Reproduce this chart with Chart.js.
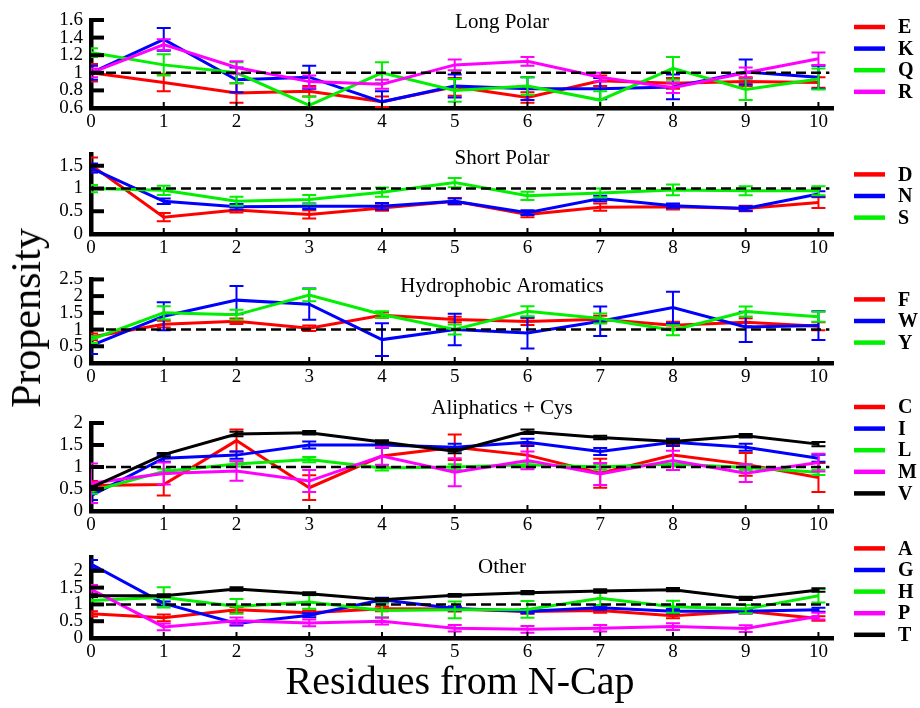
<!DOCTYPE html>
<html>
<head>
<meta charset="utf-8">
<script src="https://cdn.jsdelivr.net/npm/chart.js@4.4.0/dist/chart.umd.min.js"></script>
<style>
  body { margin: 0; background: #fff; }
  #wrap { position: relative; width: 920px; height: 708px; overflow: hidden; font-family: 'Liberation Serif', 'DejaVu Serif', serif; color: #000; }
  #wrap canvas { position: absolute; left: 0; }
  .ylab { position: absolute; left: 26px; top: 318px; transform: translate(-50%, -50%) rotate(-90deg); font-size: 42px; line-height: 42px; white-space: nowrap; }
  .xlab { position: absolute; left: 0; width: 920px; top: 661px; text-align: center; font-size: 40px; line-height: 40px; white-space: nowrap; }
</style>
</head>
<body>
<div id="wrap">
  <canvas id="p1" width="920" height="135" style="top:0px"></canvas>
  <canvas id="p2" width="920" height="125" style="top:135px"></canvas>
  <canvas id="p3" width="920" height="128" style="top:260px"></canvas>
  <canvas id="p4" width="920" height="150" style="top:388px"></canvas>
  <canvas id="p5" width="920" height="128" style="top:538px"></canvas>
  <div class="ylab">Propensity</div>
  <div class="xlab">Residues from N-Cap</div>
</div>
<script>
const residues = [0, 1, 2, 3, 4, 5, 6, 7, 8, 9, 10];

// Long Polar
const propE = [1.0, 0.89, 0.77, 0.79, 0.67, 0.84, 0.72, 0.91, 0.88, 0.9, 0.89];
const errE  = [0.1, 0.1, 0.11, 0.06, 0.06, 0.1, 0.06, 0.06, 0.06, 0.05, 0.06];
const propK = [1.0, 1.38, 0.92, 0.95, 0.67, 0.85, 0.82, 0.82, 0.84, 1.01, 0.95];
const errK  = [0.08, 0.13, 0.14, 0.13, 0.12, 0.13, 0.13, 0.12, 0.14, 0.14, 0.13];
const propQ = [1.23, 1.09, 1.0, 0.63, 1.0, 0.8, 0.85, 0.69, 1.05, 0.81, 0.93];
const errQ  = [0.05, 0.12, 0.12, 0.1, 0.12, 0.13, 0.1, 0.1, 0.13, 0.12, 0.12];
const propR = [1.0, 1.32, 1.06, 0.9, 0.87, 1.09, 1.13, 0.95, 0.83, 1.0, 1.16];
const errR  = [0.05, 0.06, 0.07, 0.07, 0.05, 0.06, 0.05, 0.05, 0.06, 0.06, 0.07];

// Short Polar
const propD = [1.52, 0.37, 0.53, 0.43, 0.57, 0.72, 0.43, 0.59, 0.6, 0.56, 0.69];
const errD  = [0.16, 0.09, 0.06, 0.09, 0.06, 0.07, 0.06, 0.08, 0.06, 0.06, 0.12];
const propN = [1.45, 0.72, 0.6, 0.61, 0.61, 0.72, 0.47, 0.78, 0.62, 0.56, 0.88];
const errN  = [0.1, 0.06, 0.06, 0.06, 0.07, 0.06, 0.05, 0.06, 0.05, 0.05, 0.06];
const propS = [1.0, 0.96, 0.72, 0.76, 0.92, 1.13, 0.84, 0.9, 0.97, 0.95, 0.95];
const errS  = [0.08, 0.1, 0.1, 0.1, 0.1, 0.1, 0.09, 0.1, 0.12, 0.1, 0.1];

// Hydrophobic Aromatics
const propF = [0.78, 1.16, 1.25, 1.04, 1.43, 1.3, 1.24, 1.31, 1.13, 1.22, 1.1];
const errF  = [0.1, 0.1, 0.08, 0.08, 0.08, 0.08, 0.1, 0.1, 0.1, 0.12, 0.12];
const propW = [0.52, 1.4, 1.88, 1.76, 0.7, 1.0, 0.9, 1.25, 1.66, 1.08, 1.12];
const errW  = [0.25, 0.42, 0.42, 0.47, 0.49, 0.47, 0.47, 0.44, 0.47, 0.45, 0.43];
const propY = [0.7, 1.5, 1.44, 2.03, 1.45, 1.0, 1.55, 1.33, 0.98, 1.54, 1.38];
const errY  = [0.1, 0.2, 0.15, 0.18, 0.1, 0.15, 0.15, 0.15, 0.15, 0.15, 0.15];

// Aliphatics + Cys
const propC = [0.58, 0.6, 1.6, 0.53, 1.25, 1.45, 1.27, 0.86, 1.27, 1.06, 0.76];
const errC  = [0.1, 0.25, 0.25, 0.28, 0.25, 0.29, 0.25, 0.33, 0.25, 0.26, 0.33];
const propI = [0.35, 1.2, 1.27, 1.5, 1.5, 1.45, 1.56, 1.35, 1.56, 1.45, 1.2];
const errI  = [0.1, 0.08, 0.08, 0.08, 0.06, 0.08, 0.08, 0.08, 0.08, 0.08, 0.08];
const propL = [0.45, 0.9, 1.07, 1.17, 0.98, 1.0, 1.05, 1.0, 1.07, 0.99, 0.88];
const errL  = [0.06, 0.06, 0.06, 0.06, 0.06, 0.06, 0.06, 0.06, 0.06, 0.06, 0.06];
const propM = [0.63, 0.85, 0.91, 0.68, 1.25, 0.88, 1.15, 0.84, 1.15, 0.86, 1.1];
const errM  = [0.45, 0.25, 0.22, 0.25, 0.2, 0.32, 0.2, 0.25, 0.22, 0.2, 0.2];
const propV = [0.53, 1.28, 1.75, 1.78, 1.57, 1.36, 1.8, 1.67, 1.58, 1.71, 1.52];
const errV  = [0.04, 0.04, 0.05, 0.04, 0.04, 0.05, 0.05, 0.04, 0.04, 0.04, 0.05];

// Other
const propA = [0.72, 0.6, 0.84, 0.75, 0.87, 0.86, 0.79, 0.82, 0.66, 0.8, 0.58];
const errA  = [0.08, 0.1, 0.08, 0.07, 0.07, 0.07, 0.07, 0.07, 0.07, 0.07, 0.07];
const propG = [2.2, 1.03, 0.43, 0.68, 1.14, 0.88, 0.8, 0.9, 0.8, 0.8, 0.84];
const errG  = [0.12, 0.06, 0.06, 0.06, 0.06, 0.06, 0.06, 0.06, 0.06, 0.06, 0.06];
const propH = [1.12, 1.21, 0.94, 1.07, 0.82, 0.84, 0.85, 1.18, 0.93, 0.86, 1.26];
const errH  = [0.12, 0.3, 0.22, 0.2, 0.2, 0.25, 0.25, 0.2, 0.18, 0.12, 0.2];
const propP = [1.45, 0.33, 0.51, 0.45, 0.5, 0.29, 0.26, 0.29, 0.34, 0.28, 0.65];
const errP  = [0.13, 0.1, 0.1, 0.1, 0.1, 0.1, 0.1, 0.1, 0.1, 0.1, 0.1];
const propT = [1.26, 1.26, 1.46, 1.32, 1.14, 1.27, 1.35, 1.4, 1.44, 1.18, 1.43];
const errT  = [0.04, 0.04, 0.05, 0.04, 0.04, 0.04, 0.05, 0.05, 0.05, 0.05, 0.05];

// y tick labels per panel
const longPolarTicks = [0.6, 0.8, 1, 1.2, 1.4, 1.6];
const shortPolarTicks = [0, 0.5, 1, 1.5];
const aromaticTicks = [0, 0.5, 1, 1.5, 2, 2.5];
const aliphaticTicks = [0, 0.5, 1, 1.5, 2];
const otherTicks = [0, 0.5, 1, 1.5, 2];

const RED = '#ff0000', BLUE = '#0000ff', GREEN = '#00f000', MAGENTA = '#ff00ff', BLACK = '#000000';
const FONT = "'Liberation Serif', 'DejaVu Serif', serif";

const panels = [
    { id: 'p1', title: 'Long Polar', yMin: 0.6, yMax: 1.6, yTicks: longPolarTicks,
      series: [['E', propE, errE, RED], ['K', propK, errK, BLUE], ['Q', propQ, errQ, GREEN], ['R', propR, errR, MAGENTA]],
      padTop: 20, axisH: 27, titleDy: 2, legendDy: 7 },
    { id: 'p2', title: 'Short Polar', yMin: 0, yMax: 1.75, yTicks: shortPolarTicks,
      series: [['D', propD, errD, RED], ['N', propN, errN, BLUE], ['S', propS, errS, GREEN]],
      padTop: 13, axisH: 26, titleDy: 4, legendDy: 20 },
    { id: 'p3', title: 'Hydrophobic Aromatics', yMin: 0, yMax: 2.5, yTicks: aromaticTicks,
      series: [['F', propF, errF, RED], ['W', propW, errW, BLUE], ['Y', propY, errY, GREEN]],
      padTop: 15, axisH: 25, titleDy: 7, legendDy: 20 },
    { id: 'p4', title: 'Aliphatics + Cys', yMin: 0, yMax: 2, yTicks: aliphaticTicks,
      series: [['C', propC, errC, RED], ['I', propI, errI, BLUE], ['L', propL, errL, GREEN], ['M', propM, errM, MAGENTA], ['V', propV, errV, BLACK]],
      padTop: 35, axisH: 27, titleDy: -15, legendDy: -16 },
    { id: 'p5', title: 'Other', yMin: 0, yMax: 2.4, yTicks: otherTicks,
      series: [['A', propA, errA, RED], ['G', propG, errG, BLUE], ['H', propH, errH, GREEN], ['P', propP, errP, MAGENTA], ['T', propT, errT, BLACK]],
      padTop: 14, axisH: 28, titleDy: 10, legendDy: -9 }
];

// error bars, reference line, inner ticks, panel title and legend
const panelDecor = {
    id: 'panelDecor',
    afterDatasetDraw(chart, args) {
        const ds = chart.data.datasets[args.index];
        const y = chart.scales.y;
        const area = chart.chartArea;
        const ctx = chart.ctx;
        ctx.save();
        ctx.beginPath();
        ctx.rect(area.left, area.top - 2, area.right - area.left, area.bottom - area.top + 2);
        ctx.clip();
        ctx.strokeStyle = ds.borderColor;
        ctx.lineWidth = 2;
        args.meta.data.forEach((pt, i) => {
            const v = ds.data[i].y, e = ds.errors[i];
            const top = y.getPixelForValue(v + e), bot = y.getPixelForValue(v - e);
            ctx.beginPath();
            ctx.moveTo(pt.x, top); ctx.lineTo(pt.x, bot);
            ctx.moveTo(pt.x - 7, top); ctx.lineTo(pt.x + 7, top);
            ctx.moveTo(pt.x - 7, bot); ctx.lineTo(pt.x + 7, bot);
            ctx.stroke();
        });
        ctx.restore();
    },
    afterDatasetsDraw(chart, args, opts) {
        const ctx = chart.ctx;
        const area = chart.chartArea;
        const x = chart.scales.x, y = chart.scales.y;
        ctx.save();
        // dashed line at propensity 1
        const y1 = y.getPixelForValue(1);
        ctx.strokeStyle = '#000';
        ctx.lineWidth = 2.5;
        ctx.setLineDash([10, 5]);
        ctx.beginPath();
        ctx.moveTo(area.left, y1);
        ctx.lineTo(x.getPixelForValue(10.15), y1);
        ctx.stroke();
        ctx.setLineDash([]);
        // tick marks drawn inside the box
        ctx.lineWidth = 4;
        y.ticks.forEach(t => {
            const py = y.getPixelForValue(t.value);
            ctx.beginPath();
            ctx.moveTo(area.left, py);
            ctx.lineTo(area.left + 13, py);
            ctx.stroke();
        });
        ctx.lineWidth = 2;
        x.ticks.forEach(t => {
            const px = x.getPixelForValue(t.value);
            ctx.beginPath();
            ctx.moveTo(px, area.bottom);
            ctx.lineTo(px, area.bottom - 6);
            ctx.stroke();
        });
        // title
        ctx.fillStyle = '#000';
        ctx.font = '21px ' + FONT;
        ctx.textAlign = 'center';
        ctx.textBaseline = 'middle';
        ctx.fillText(opts.title, 502, area.top + opts.titleDy);
        // legend
        ctx.textAlign = 'left';
        ctx.font = 'bold 20px ' + FONT;
        chart.data.datasets.forEach((ds, i) => {
            const ly = area.top + opts.legendDy + i * 21.6;
            ctx.strokeStyle = ds.borderColor;
            ctx.lineWidth = 4.5;
            ctx.beginPath();
            ctx.moveTo(854, ly);
            ctx.lineTo(885, ly);
            ctx.stroke();
            ctx.fillText(ds.label, 898, ly + 1);
        });
        ctx.restore();
    }
};

panels.forEach(function(p) {
    const n = p.series.length;
    new Chart(document.getElementById(p.id), {
        type: 'line',
        data: {
            datasets: p.series.map(function(s, i) {
                return {
                    label: s[0],
                    data: s[1].map((v, j) => ({ x: residues[j], y: v })),
                    errors: s[2],
                    borderColor: s[3],
                    backgroundColor: s[3],
                    borderWidth: 3,
                    pointRadius: 0,
                    tension: 0,
                    order: n - i
                };
            })
        },
        options: {
            responsive: false,
            animation: false,
            events: [],
            layout: { padding: { left: 0, right: 87, top: p.padTop, bottom: 0 } },
            plugins: {
                legend: { display: false },
                tooltip: { enabled: false },
                panelDecor: { title: p.title, titleDy: p.titleDy, legendDy: p.legendDy }
            },
            scales: {
                x: {
                    type: 'linear',
                    min: 0,
                    max: 10.2,
                    afterBuildTicks: axis => { axis.ticks = residues.map(v => ({ value: v })); },
                    afterFit: scale => { scale.height = p.axisH; },
                    grid: { display: false, drawTicks: false },
                    border: { display: true, color: '#000', width: 4.5 },
                    ticks: { color: '#000', font: { family: FONT, size: 19 }, padding: 3, autoSkip: false, maxRotation: 0, callback: v => String(v) }
                },
                y: {
                    min: p.yMin,
                    max: p.yMax,
                    afterBuildTicks: axis => { axis.ticks = p.yTicks.map(v => ({ value: v })); },
                    afterFit: scale => { scale.width = 91; },
                    grid: { display: false, drawTicks: false },
                    border: { display: true, color: '#000', width: 4.5 },
                    ticks: { color: '#000', font: { family: FONT, size: 19 }, padding: 8, autoSkip: false, callback: v => String(v) }
                }
            }
        },
        plugins: [panelDecor]
    });
});
</script>
</body>
</html>
